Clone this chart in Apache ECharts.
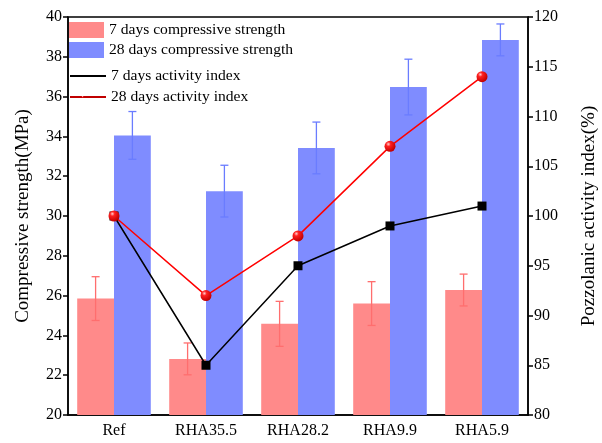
<!DOCTYPE html>
<html><head><meta charset="utf-8">
<script src="https://cdn.jsdelivr.net/npm/echarts@6/dist/echarts.min.js"></script>
<style>html,body{margin:0;padding:0;background:#fff}#c{width:602px;height:443px}</style>
</head><body><div id="c"></div>
<script>
const categories = ['Ref', 'RHA35.5', 'RHA28.2', 'RHA9.9', 'RHA5.9'];
const strength7 = [25.85, 22.82, 24.58, 25.6, 26.28];
const strength7Err = [1.1, 0.8, 1.13, 1.1, 0.8];
const strength28 = [34.05, 31.25, 33.42, 36.48, 38.85];
const strength28Err = [1.2, 1.3, 1.3, 1.4, 0.8];
const activity7 = [100, 85, 95, 99, 101];
const activity28 = [100, 92, 98, 107, 114];

const FONT = '"Liberation Serif", "Times New Roman", serif';
const RED = '#FF8A8A', BLUE = '#7F8CFF';
const RED_E = '#FF6E6E', BLUE_E = '#6A7CFF';

function errSeries(vals, errs, side, color) {
  return {
    type: 'custom', yAxisIndex: 0, z: 5, silent: true,
    data: vals.map((v, i) => [i, v - errs[i], v + errs[i]]),
    renderItem: function (params, api) {
      const i = api.value(0);
      const lo = api.coord([i, api.value(1)]);
      const hi = api.coord([i, api.value(2)]);
      const band = api.size([1, 0])[0];
      const x = lo[0] + side * band * 0.2;
      const cw = 4;
      const st = { stroke: color, lineWidth: 1.3 };
      return { type: 'group', children: [
        { type: 'line', shape: { x1: x, y1: lo[1], x2: x, y2: hi[1] }, style: st },
        { type: 'line', shape: { x1: x - cw, y1: lo[1], x2: x + cw, y2: lo[1] }, style: st },
        { type: 'line', shape: { x1: x - cw, y1: hi[1], x2: x + cw, y2: hi[1] }, style: st }
      ]};
    }
  };
}

const chart = echarts.init(document.getElementById('c'));
chart.setOption({
  animation: false,
  textStyle: { fontFamily: FONT },
  grid: { left: 68, right: 74, top: 17, bottom: 28, outerBoundsMode: 'none', containLabel: false,
    show: true, borderColor: '#000', borderWidth: 1.5, backgroundColor: 'transparent' },
  legend: [
    { data: ['7 days compressive strength', '28 days compressive strength'], orient: 'vertical', left: 69, top: 22, padding: 0,
      itemWidth: 35, itemHeight: 16, itemGap: 4, icon: 'rect',
      textStyle: { fontFamily: FONT, fontSize: 15.6, color: '#000' } },
    { data: ['7 days activity index', '28 days activity index'], orient: 'vertical', left: 70, top: 68, padding: 0,
      itemWidth: 36, itemHeight: 2, itemGap: 5, icon: 'rect',
      textStyle: { fontFamily: FONT, fontSize: 15.6, color: '#000' } }
  ],
  xAxis: {
    type: 'category', data: categories,
    axisLine: { lineStyle: { color: '#000', width: 1.5 } },
    axisTick: { alignWithLabel: true, length: 5, lineStyle: { color: '#000', width: 1.5 } },
    axisLabel: { color: '#000', fontSize: 16, fontFamily: FONT, margin: 8 }
  },
  yAxis: [
    { type: 'value', min: 20, max: 40, interval: 2, position: 'left',
      name: 'Compressive strength(MPa)', nameLocation: 'middle', nameGap: 35,
      nameTextStyle: { fontSize: 19, color: '#000', fontFamily: FONT },
      axisLine: { show: true, lineStyle: { color: '#000', width: 1.5 } },
      axisTick: { show: true, length: 5, lineStyle: { color: '#000', width: 1.5 } },
      axisLabel: { color: '#000', fontSize: 16, fontFamily: FONT, margin: 6 },
      splitLine: { show: false } },
    { type: 'value', min: 80, max: 120, interval: 5, position: 'right',
      name: 'Pozzolanic activity index(%)', nameLocation: 'middle', nameGap: 52, nameRotate: 90,
      nameTextStyle: { fontSize: 19, color: '#000', fontFamily: FONT },
      axisLine: { show: true, lineStyle: { color: '#000', width: 1.5 } },
      axisTick: { show: true, length: 5, lineStyle: { color: '#000', width: 1.5 } },
      axisLabel: { color: '#000', fontSize: 16, fontFamily: FONT, margin: 6 },
      splitLine: { show: false } }
  ],
  series: [
    { name: '7 days compressive strength', type: 'bar', yAxisIndex: 0, data: strength7,
      itemStyle: { color: RED }, barGap: '0%', barCategoryGap: '20%' },
    { name: '28 days compressive strength', type: 'bar', yAxisIndex: 0, data: strength28,
      itemStyle: { color: BLUE }, barGap: '0%', barCategoryGap: '20%' },
    errSeries(strength7, strength7Err, -1, RED_E),
    errSeries(strength28, strength28Err, 1, BLUE_E),
    { name: '7 days activity index', type: 'line', yAxisIndex: 1, data: activity7, z: 10,
      color: '#000', lineStyle: { color: '#000', width: 1.5 },
      symbol: 'rect', symbolSize: 9, itemStyle: { color: '#000' } },
    { name: '28 days activity index', type: 'line', yAxisIndex: 1, data: activity28, z: 11,
      color: '#FF0000', lineStyle: { color: '#FF0000', width: 1.5 },
      symbol: 'circle', symbolSize: 11,
      itemStyle: { color: new echarts.graphic.RadialGradient(0.35, 0.3, 0.7, [
        { offset: 0, color: '#FFD0D0' }, { offset: 0.3, color: '#FF2020' }, { offset: 1, color: '#C00000' }]) } }
  ]
});
</script></body></html>
